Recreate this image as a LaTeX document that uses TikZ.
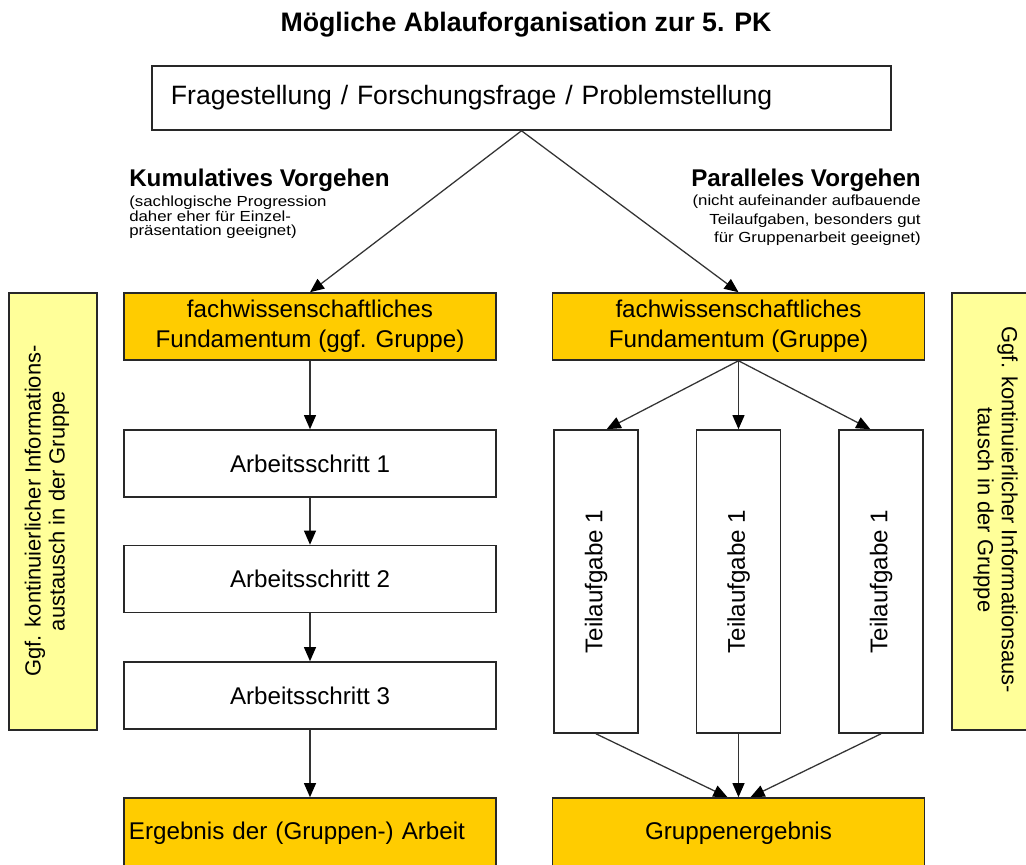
\documentclass[tikz,border=0pt]{standalone}
\usepackage{fontspec}
\setmainfont{Liberation Sans}
\newfontfamily\widefont[FakeStretch=1.15]{Liberation Sans}
\usetikzlibrary{positioning}
\usetikzlibrary{calc}
\usetikzlibrary{arrows.meta}
\definecolor{gold}{RGB}{255,204,0}
\definecolor{paleyellow}{RGB}{255,255,153}
\definecolor{boxline}{RGB}{40,40,40}

\begin{document}
\begin{tikzpicture}[x=0.025cm, y=-0.025cm,
  box/.style={draw=boxline, line width=1.1pt, fill=white, inner sep=0pt,
    align=center, font=\fontsize{17.2}{21.3}\selectfont},
  fund/.style={box, fill=gold, minimum width=9.3cm, minimum height=1.675cm},
  stepbox/.style={box, minimum width=9.3cm, minimum height=1.675cm},
  taskbox/.style={box, minimum width=2.1cm, minimum height=7.575cm},
  sidebox/.style={draw=boxline, line width=1.1pt, fill=paleyellow,
    minimum width=2.2cm, minimum height=10.925cm},
  sidetext/.style={align=center, inner sep=0pt, font=\fontsize{15.6}{17}\selectfont},
  head/.style={inner sep=0pt, font=\fontsize{17.2}{20}\selectfont\bfseries},
  note/.style={inner sep=0pt, font=\widefont\fontsize{10.4}{10.3}\selectfont},
  flow/.style={draw=black!80, line width=0.9pt,
    -{Triangle[length=10pt,width=8.5pt,color=black]}},
]

%---------------------------------------
% Page size
%---------------------------------------
\fill[white] (0,0) rectangle (1026,865);
\useasboundingbox (0,0) rectangle (1026,865);

\def\colL{310}
\def\colR{738.5}

% Title and question
\node[anchor=base, font=\fontsize{19}{22}\selectfont\bfseries] (title) at (526,32)
  {Mögliche Ablauforganisation zur 5. PK};
\node[box, minimum width=18.475cm, minimum height=1.6cm, text width=17.525cm,
  align=left, font=\fontsize{18.9}{22}\selectfont] (frage) at (521.5,98)
  {Fragestellung / Forschungsfrage / Problemstellung};

%====================================================
% LEFT: cumulative
%====================================================
\node[head, anchor=base west] (kumhead) at (129,187) {Kumulatives Vorgehen};
\node[note, anchor=north west, align=left] (kumnote) at (129,196)
  {(sachlogische Progression\\daher eher für Einzel-\\präsentation geeignet)};

\node[fund] (fundl) at (\colL,326.5) {fachwissenschaftliches\\Fundamentum (ggf. Gruppe)};
\node[stepbox] (as1) at (\colL,463.5) {Arbeitsschritt 1};
\node[stepbox] (as2) at (\colL,579) {Arbeitsschritt 2};
\node[stepbox] (as3) at (\colL,695.5) {Arbeitsschritt 3};
\node[fund, minimum height=1.75cm, text width=9.05cm, align=left] (erg) at (\colL,833)
  {Ergebnis der (Gruppen-) Arbeit};

\draw[flow] (frage.south) -- (fundl.north);
\draw[flow] (fundl.south) -- (as1.north);
\draw[flow] (as1.south) -- (as2.north);
\draw[flow] (as2.south) -- (as3.north);
\draw[flow] (as3.south) -- (erg.north);

%====================================================
% RIGHT: parallel
%====================================================
\node[head, anchor=base east] (parhead) at (921,187) {Paralleles Vorgehen};
\node[note, anchor=north east, align=right, font=\widefont\fontsize{10.4}{13.2}\selectfont]
  (parnote) at (921,195)
  {(nicht aufeinander aufbauende\\Teilaufgaben, besonders gut\\für Gruppenarbeit geeignet)};

\node[fund] (fundr) at (\colR,326.5) {fachwissenschaftliches\\Fundamentum (Gruppe)};
\foreach \i/\xc in {1/596,2/738.5,3/881}
  \node[taskbox] (t\i) at (\xc,581.5) {\rotatebox{90}{Teilaufgabe 1}};
\node[fund, minimum height=1.75cm] (grp) at (\colR,833) {Gruppenergebnis};

\draw[flow] (frage.south) -- (fundr.north);
\draw[flow] (fundr.south) -- ($(t1.north)!0.25!(t1.north east)$);
\draw[flow] (fundr.south) -- (t2.north);
\draw[flow] (fundr.south) -- ($(t3.north)!0.25!(t3.north west)$);
\draw[flow] (t1.south) -- ($(grp.north)+(-11,0)$);
\draw[flow] (t2.south) -- (grp.north);
\draw[flow] (t3.south) -- ($(grp.north)+(12,0)$);

%====================================================
% Side notes: information exchange
%====================================================
\node[sidebox] (sidel) at (53,511.5) {};
\node[sidetext, rotate=90] (sideltxt) at (47,511)
  {Ggf. kontinuierlicher Informations-\\austausch in der Gruppe};

\node[sidebox] (sider) at (996,511.5) {};
\node[sidetext, rotate=-90] (sidertxt) at (995.5,510)
  {Ggf. kontinuierlicher Informationsaus-\\tausch in der Gruppe};

\end{tikzpicture}
\end{document}
